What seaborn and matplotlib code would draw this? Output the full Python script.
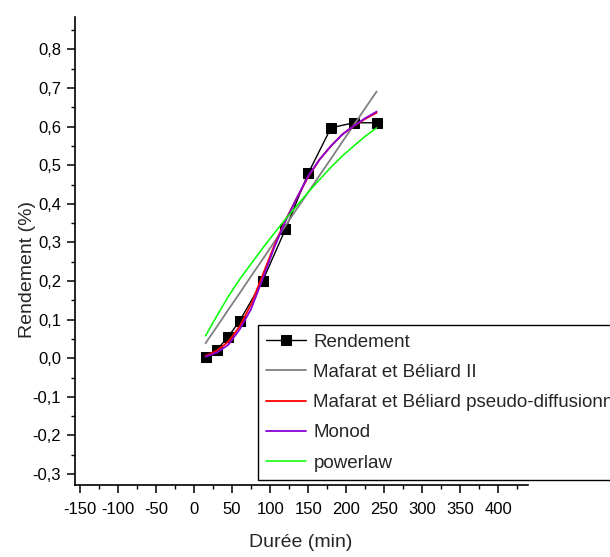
import matplotlib
matplotlib.use("Agg")
import matplotlib.pyplot as plt
import pandas as pd
import seaborn as sns
from matplotlib.ticker import MultipleLocator, FuncFormatter

# ---- data ----
duree = [15, 30, 45, 60, 90, 120, 150, 180, 210, 240]
rendement = [0.003, 0.022, 0.056, 0.097, 0.200, 0.334, 0.479, 0.597, 0.610, 0.610]

fit_t = [15, 30, 45, 60, 75, 90, 105, 120, 135, 150, 165, 180, 195, 210, 225, 240]
mafarat_ii = [0.039, 0.082, 0.126, 0.169, 0.213, 0.256, 0.300, 0.343,
              0.387, 0.430, 0.474, 0.517, 0.561, 0.604, 0.648, 0.691]
mafarat_pd = [0.006, 0.020, 0.043, 0.083, 0.140, 0.215, 0.290, 0.357,
              0.415, 0.470, 0.515, 0.550, 0.580, 0.602, 0.620, 0.636]
monod = [0.004, 0.015, 0.035, 0.075, 0.128, 0.205, 0.285, 0.355,
         0.415, 0.472, 0.515, 0.550, 0.580, 0.602, 0.622, 0.639]
powerlaw = [0.058, 0.110, 0.160, 0.205, 0.245, 0.285, 0.323, 0.360,
            0.395, 0.430, 0.463, 0.495, 0.524, 0.550, 0.575, 0.597]

labels = ["Rendement", "Mafarat et Béliard II",
          "Mafarat et Béliard pseudo-diffusionnel", "Monod", "powerlaw"]
x_ticks = list(range(-150, 401, 50))
y_ticks = [-0.3, -0.2, -0.1, 0.0, 0.1, 0.2, 0.3, 0.4, 0.5, 0.6, 0.7, 0.8]

sns.set_theme(style="ticks")
plt.rcParams["font.family"] = ["Liberation Sans", "DejaVu Sans"]

fig = plt.figure(figsize=(6.10, 5.57), dpi=100)
ax = fig.add_axes([75 / 610, 1 - 485.3 / 557, 453 / 610, 468.3 / 557])

df_pts = pd.DataFrame({"t": duree, "y": rendement})
df_fit = pd.DataFrame({"t": fit_t, "m2": mafarat_ii, "pd": mafarat_pd,
                       "monod": monod, "pl": powerlaw})

sns.lineplot(data=df_pts, x="t", y="y", ax=ax, color="black", lw=1.0,
             marker="s", markersize=7, markeredgecolor="black",
             estimator=None, sort=False, label=labels[0])
sns.lineplot(data=df_fit, x="t", y="m2", ax=ax, color="#808080", lw=1.3,
             estimator=None, label=labels[1])
sns.lineplot(data=df_fit, x="t", y="pd", ax=ax, color="#ff0000", lw=1.3,
             estimator=None, label=labels[2])
sns.lineplot(data=df_fit, x="t", y="monod", ax=ax, color="#8a00d4", lw=1.3,
             estimator=None, label=labels[3])
sns.lineplot(data=df_fit, x="t", y="pl", ax=ax, color="#00ff00", lw=1.1,
             estimator=None, label=labels[4])

ax.set_xlim(-156.6, 439)
ax.set_ylim(-0.329, 0.884)
ax.set_xticks(x_ticks)
ax.set_yticks(y_ticks)
ax.xaxis.set_minor_locator(MultipleLocator(25))
ax.yaxis.set_minor_locator(MultipleLocator(0.05))
ax.yaxis.set_major_formatter(FuncFormatter(lambda v, p: f"{v:.1f}".replace(".", ",").replace("−", "-")))
ax.xaxis.set_major_formatter(FuncFormatter(lambda v, p: f"{int(round(v))}"))

for s in ["top", "right"]:
    ax.spines[s].set_visible(False)
for s in ["left", "bottom"]:
    ax.spines[s].set_linewidth(1.2)
    ax.spines[s].set_color("black")

ax.tick_params(axis="both", which="major", direction="out", length=6, width=1.1,
               labelsize=12, colors="black")
ax.tick_params(axis="x", which="major", pad=6)
ax.tick_params(axis="y", which="major", pad=4)
ax.tick_params(axis="both", which="minor", direction="out", length=3, width=1.0,
               colors="black")

ax.set_xlabel("Durée (min)", fontsize=14)
ax.set_ylabel("Rendement (%)", fontsize=14)
ax.xaxis.set_label_coords(0.498, -0.104)
ax.yaxis.set_label_coords(-0.086, 0.46)

leg = ax.legend(loc="upper left", bbox_to_anchor=(258 / 610, 1 - 325 / 557),
                bbox_transform=fig.transFigure, borderaxespad=0, frameon=True,
                fancybox=False, shadow=False, fontsize=13.5, numpoints=1,
                handlelength=2.1, handletextpad=0.4, labelspacing=0.70,
                borderpad=0.45)
leg.get_frame().set_edgecolor("black")
leg.get_frame().set_linewidth(1.0)
leg.get_frame().set_alpha(1)

fig.savefig("out.png", dpi=100)
